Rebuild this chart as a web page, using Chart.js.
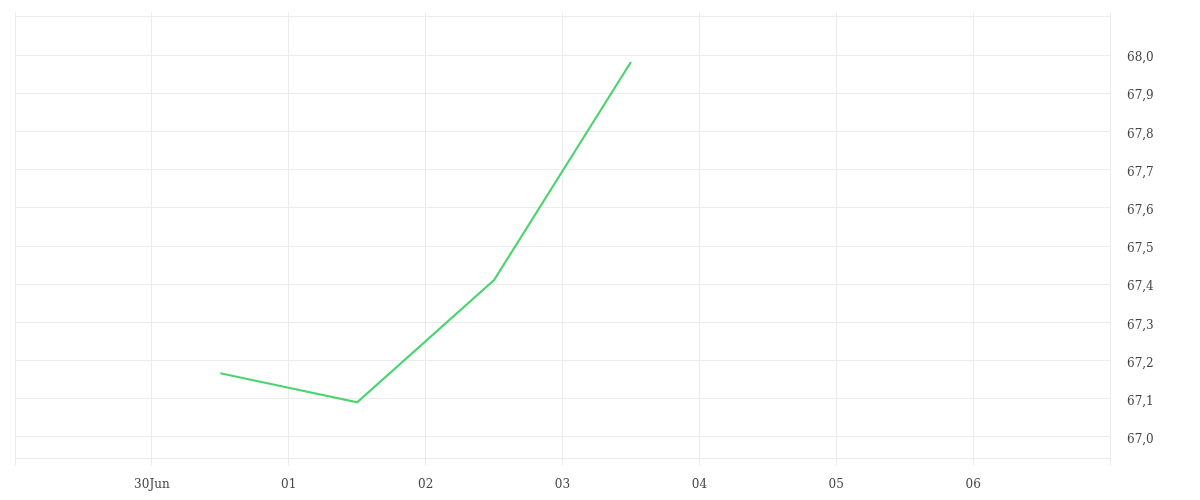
<!DOCTYPE html>
<html>
<head>
<meta charset="utf-8">
<script src="https://cdn.jsdelivr.net/npm/chart.js@4/dist/chart.umd.min.js"></script>
<style>
html,body{margin:0;padding:0;background:#fff;}
#wrap{width:1200px;height:500px;position:relative;}
</style>
</head>
<body>
<div id="wrap"><canvas id="c"></canvas></div>
<script>
// Day ticks: 0 = 29 Jun ... 8 = 07 Jul (end ticks unlabeled)
const dayTickLabels = ['', '30Jun', '01', '02', '03', '04', '05', '06', ''];
// Series: points at mid-day
const pointDays = [1.5, 2.5, 3.5, 4.5];
const pointValues = [67.167, 67.091, 67.411, 67.982];
// Value axis ticks
const yTickValues = [67.0, 67.1, 67.2, 67.3, 67.4, 67.5, 67.6, 67.7, 67.8, 67.9, 68.0, 68.1];
const yTickLabels = ['67,0', '67,1', '67,2', '67,3', '67,4', '67,5', '67,6', '67,7', '67,8', '67,9', '68,0', ''];

const gridColor = '#ececec';
const textColor = '#444';
const fontSpec = {family: '"DejaVu Serif", serif', size: 12};

new Chart(document.getElementById('c'), {
  type: 'line',
  data: {
    datasets: [{
      data: pointDays.map((d, i) => ({x: d, y: pointValues[i]})),
      borderColor: '#4cd471',
      borderWidth: 2.2,
      pointRadius: 0,
      tension: 0,
      fill: false
    }]
  },
  options: {
    responsive: true,
    maintainAspectRatio: false,
    animation: false,
    layout: {padding: {top: 12, left: 15, right: 0, bottom: 0}},
    plugins: {legend: {display: false}, tooltip: {enabled: false}},
    scales: {
      x: {
        type: 'linear',
        min: 0,
        max: 8,
        afterBuildTicks: (s) => { s.ticks = dayTickLabels.map((_, i) => ({value: i})); },
        afterFit: (s) => { s.height = 42; s.paddingLeft = 0; s.paddingRight = 0; },
        ticks: {
          autoSkip: false,
          maxRotation: 0,
          padding: 13,
          color: textColor,
          font: fontSpec,
          callback: (v) => dayTickLabels[Math.round(v)] ?? ''
        },
        grid: {color: gridColor, lineWidth: 1, drawTicks: true, tickLength: 7, tickColor: gridColor},
        border: {display: true, color: gridColor}
      },
      y: {
        type: 'linear',
        position: 'right',
        min: 66.945,
        max: 68.113,
        afterBuildTicks: (s) => { s.ticks = yTickValues.map(v => ({value: v})); },
        afterFit: (s) => { s.width = 90; s.paddingTop = 0; s.paddingBottom = 0; },
        ticks: {
          padding: 17,
          labelOffset: 3,
          color: textColor,
          font: fontSpec,
          callback: (v) => {
            const i = yTickValues.findIndex(t => Math.abs(t - v) < 1e-6);
            return i >= 0 ? yTickLabels[i] : '';
          }
        },
        grid: {color: gridColor, lineWidth: 1, drawTicks: false},
        border: {display: true, color: gridColor}
      }
    }
  }
});
</script>
</body>
</html>
